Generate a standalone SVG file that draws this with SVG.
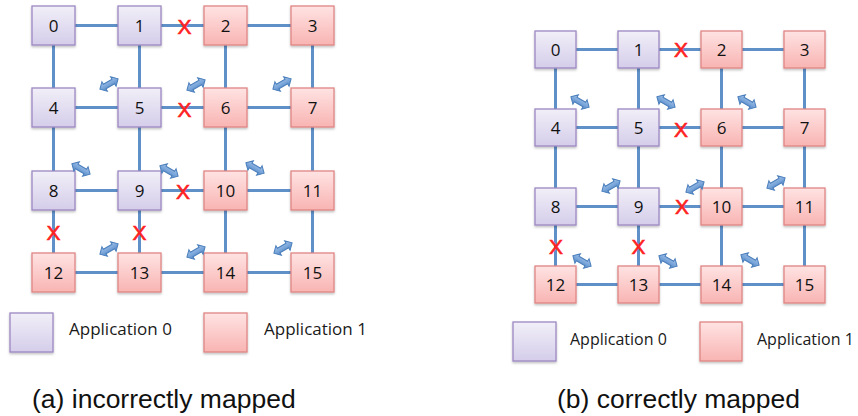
<svg xmlns="http://www.w3.org/2000/svg" width="858" height="416" viewBox="0 0 858 416">
  <defs>
    <linearGradient id="gPurple" x1="0" y1="0" x2="0" y2="1">
      <stop offset="0" stop-color="#f1eff8"/>
      <stop offset="1" stop-color="#d5cdea"/>
    </linearGradient>
    <linearGradient id="gPink" x1="0" y1="0" x2="0" y2="1">
      <stop offset="0" stop-color="#ffe3e3"/>
      <stop offset="1" stop-color="#f8b4b2"/>
    </linearGradient>
    <linearGradient id="gArrow" x1="0" y1="0" x2="0" y2="1">
      <stop offset="0" stop-color="#a9c8ee"/>
      <stop offset="1" stop-color="#4f86c6"/>
    </linearGradient>
    <filter id="shadow" x="-20%" y="-20%" width="140%" height="150%">
      <feDropShadow dx="0" dy="1.5" stdDeviation="1" flood-color="#000" flood-opacity="0.25"/>
    </filter>
    <!-- double-headed block arrow along the x axis -->
    <path id="dblArrow" d="M-10.5,0 L-5,-5.5 L-5,-2.6 L5,-2.6 L5,-5.5 L10.5,0 L5,5.5 L5,2.6 L-5,2.6 L-5,5.5 Z"/>
  </defs>
  <style>
    .app0 { fill: url(#gPurple); stroke: #9c88c2; stroke-width: 1.3; filter: url(#shadow); }
    .app1 { fill: url(#gPink); stroke: #df8684; stroke-width: 1.3; filter: url(#shadow); }
    .lbl { font-family: "Open Sans", "Liberation Sans", sans-serif; font-size: 17px; fill: #111; text-anchor: middle; dominant-baseline: central; }
    .link { stroke: #5f90c8; stroke-width: 3; fill: none; }
    .cut { font-family: "Liberation Sans", Arial, sans-serif; font-size: 21px; fill: #ff2222; stroke: #ff2222; stroke-width: 0.6; text-anchor: middle; dominant-baseline: central; }
    .traffic { fill: url(#gArrow); stroke: #4a7ebb; stroke-width: 1; }
    .legend { font-family: "Open Sans", "Liberation Sans", sans-serif; font-size: 17px; fill: #1a1a1a; }
    .legend-sm { font-size: 16px; }
    .caption { font-family: "Liberation Sans", Arial, sans-serif; font-size: 26.5px; fill: #111; }
  </style>

  <!-- ===== (a) incorrectly mapped ===== -->
  <g id="a-links">
    <!-- horizontal links -->
    <line class="link" x1="53.5" y1="25.5" x2="312.5" y2="25.5"/>
    <line class="link" x1="53.5" y1="107.5" x2="312.5" y2="107.5"/>
    <line class="link" x1="53.5" y1="190.5" x2="312.5" y2="190.5"/>
    <line class="link" x1="53.5" y1="272.5" x2="312.5" y2="272.5"/>
    <!-- vertical links -->
    <line class="link" x1="53.5" y1="25.5" x2="53.5" y2="272.5"/>
    <line class="link" x1="139.5" y1="25.5" x2="139.5" y2="272.5"/>
    <line class="link" x1="225.5" y1="25.5" x2="225.5" y2="272.5"/>
    <line class="link" x1="312.5" y1="25.5" x2="312.5" y2="272.5"/>
  </g>

  <g id="a-n0"><rect class="app0" x="32" y="6" width="43" height="39"/><text class="lbl" x="53.5" y="25.5">0</text></g>
  <g id="a-n1"><rect class="app0" x="118" y="6" width="43" height="39"/><text class="lbl" x="139.5" y="25.5">1</text></g>
  <g id="a-n2"><rect class="app1" x="204" y="6" width="43" height="39"/><text class="lbl" x="225.5" y="25.5">2</text></g>
  <g id="a-n3"><rect class="app1" x="291" y="6" width="43" height="39"/><text class="lbl" x="312.5" y="25.5">3</text></g>
  <g id="a-n4"><rect class="app0" x="32" y="88" width="43" height="39"/><text class="lbl" x="53.5" y="107.5">4</text></g>
  <g id="a-n5"><rect class="app0" x="118" y="88" width="43" height="39"/><text class="lbl" x="139.5" y="107.5">5</text></g>
  <g id="a-n6"><rect class="app1" x="204" y="88" width="43" height="39"/><text class="lbl" x="225.5" y="107.5">6</text></g>
  <g id="a-n7"><rect class="app1" x="291" y="88" width="43" height="39"/><text class="lbl" x="312.5" y="107.5">7</text></g>
  <g id="a-n8"><rect class="app0" x="32" y="171" width="43" height="39"/><text class="lbl" x="53.5" y="190.5">8</text></g>
  <g id="a-n9"><rect class="app0" x="118" y="171" width="43" height="39"/><text class="lbl" x="139.5" y="190.5">9</text></g>
  <g id="a-n10"><rect class="app1" x="204" y="171" width="43" height="39"/><text class="lbl" x="225.5" y="190.5">10</text></g>
  <g id="a-n11"><rect class="app1" x="291" y="171" width="43" height="39"/><text class="lbl" x="312.5" y="190.5">11</text></g>
  <g id="a-n12"><rect class="app1" x="32" y="253" width="43" height="39"/><text class="lbl" x="53.5" y="272.5">12</text></g>
  <g id="a-n13"><rect class="app1" x="118" y="253" width="43" height="39"/><text class="lbl" x="139.5" y="272.5">13</text></g>
  <g id="a-n14"><rect class="app1" x="204" y="253" width="43" height="39"/><text class="lbl" x="225.5" y="272.5">14</text></g>
  <g id="a-n15"><rect class="app1" x="291" y="253" width="43" height="39"/><text class="lbl" x="312.5" y="272.5">15</text></g>

  <g id="a-cuts">
    <text class="cut" x="184.5" y="26">X</text>
    <text class="cut" x="184.5" y="109">X</text>
    <text class="cut" x="183" y="191">X</text>
    <text class="cut" x="53.5" y="232">X</text>
    <text class="cut" x="139.5" y="232">X</text>
  </g>

  <g id="a-traffic">
    <use href="#dblArrow" class="traffic" transform="translate(109,84) rotate(-30)"/>
    <use href="#dblArrow" class="traffic" transform="translate(196,85) rotate(-30)"/>
    <use href="#dblArrow" class="traffic" transform="translate(282,84) rotate(-30)"/>
    <use href="#dblArrow" class="traffic" transform="translate(81,169) rotate(30)"/>
    <use href="#dblArrow" class="traffic" transform="translate(169,171) rotate(30)"/>
    <use href="#dblArrow" class="traffic" transform="translate(255,168) rotate(30)"/>
    <use href="#dblArrow" class="traffic" transform="translate(109,249) rotate(-30)"/>
    <use href="#dblArrow" class="traffic" transform="translate(196,252) rotate(-30)"/>
    <use href="#dblArrow" class="traffic" transform="translate(283,248) rotate(-30)"/>
  </g>

  <g id="a-legend">
    <rect class="app0" x="10" y="313" width="43" height="39"/>
    <text class="legend" x="69" y="335">Application 0</text>
    <rect class="app1" x="204" y="313" width="43" height="39"/>
    <text class="legend" x="264" y="335">Application 1</text>
  </g>
  <text id="a-caption" class="caption" x="32" y="408">(a) incorrectly mapped</text>

  <!-- ===== (b) correctly mapped ===== -->
  <g id="b-links">
    <line class="link" x1="555.5" y1="49.5" x2="804.5" y2="49.5"/>
    <line class="link" x1="555.5" y1="127.5" x2="804.5" y2="127.5"/>
    <line class="link" x1="555.5" y1="206.5" x2="804.5" y2="206.5"/>
    <line class="link" x1="555.5" y1="284.5" x2="804.5" y2="284.5"/>
    <line class="link" x1="555.5" y1="49.5" x2="555.5" y2="284.5"/>
    <line class="link" x1="638.5" y1="49.5" x2="638.5" y2="284.5"/>
    <line class="link" x1="721.5" y1="49.5" x2="721.5" y2="284.5"/>
    <line class="link" x1="804.5" y1="49.5" x2="804.5" y2="284.5"/>
  </g>

  <g id="b-n0"><rect class="app0" x="535" y="31" width="41" height="37"/><text class="lbl" x="555.5" y="49.5">0</text></g>
  <g id="b-n1"><rect class="app0" x="618" y="31" width="41" height="37"/><text class="lbl" x="638.5" y="49.5">1</text></g>
  <g id="b-n2"><rect class="app1" x="701" y="31" width="41" height="37"/><text class="lbl" x="721.5" y="49.5">2</text></g>
  <g id="b-n3"><rect class="app1" x="784" y="31" width="41" height="37"/><text class="lbl" x="804.5" y="49.5">3</text></g>
  <g id="b-n4"><rect class="app0" x="535" y="109" width="41" height="37"/><text class="lbl" x="555.5" y="127.5">4</text></g>
  <g id="b-n5"><rect class="app0" x="618" y="109" width="41" height="37"/><text class="lbl" x="638.5" y="127.5">5</text></g>
  <g id="b-n6"><rect class="app1" x="701" y="109" width="41" height="37"/><text class="lbl" x="721.5" y="127.5">6</text></g>
  <g id="b-n7"><rect class="app1" x="784" y="109" width="41" height="37"/><text class="lbl" x="804.5" y="127.5">7</text></g>
  <g id="b-n8"><rect class="app0" x="535" y="188" width="41" height="37"/><text class="lbl" x="555.5" y="206.5">8</text></g>
  <g id="b-n9"><rect class="app0" x="618" y="188" width="41" height="37"/><text class="lbl" x="638.5" y="206.5">9</text></g>
  <g id="b-n10"><rect class="app1" x="701" y="188" width="41" height="37"/><text class="lbl" x="721.5" y="206.5">10</text></g>
  <g id="b-n11"><rect class="app1" x="784" y="188" width="41" height="37"/><text class="lbl" x="804.5" y="206.5">11</text></g>
  <g id="b-n12"><rect class="app1" x="535" y="266" width="41" height="37"/><text class="lbl" x="555.5" y="284.5">12</text></g>
  <g id="b-n13"><rect class="app1" x="618" y="266" width="41" height="37"/><text class="lbl" x="638.5" y="284.5">13</text></g>
  <g id="b-n14"><rect class="app1" x="701" y="266" width="41" height="37"/><text class="lbl" x="721.5" y="284.5">14</text></g>
  <g id="b-n15"><rect class="app1" x="784" y="266" width="41" height="37"/><text class="lbl" x="804.5" y="284.5">15</text></g>

  <g id="b-cuts">
    <text class="cut" x="681" y="49">X</text>
    <text class="cut" x="681" y="129">X</text>
    <text class="cut" x="682" y="206">X</text>
    <text class="cut" x="556" y="246">X</text>
    <text class="cut" x="638.5" y="246">X</text>
  </g>

  <g id="b-traffic">
    <use href="#dblArrow" class="traffic" transform="translate(580,102) rotate(30)"/>
    <use href="#dblArrow" class="traffic" transform="translate(666,102) rotate(30)"/>
    <use href="#dblArrow" class="traffic" transform="translate(747,102) rotate(30)"/>
    <use href="#dblArrow" class="traffic" transform="translate(611,186) rotate(-30)"/>
    <use href="#dblArrow" class="traffic" transform="translate(695,187) rotate(-30)"/>
    <use href="#dblArrow" class="traffic" transform="translate(776,183) rotate(-30)"/>
    <use href="#dblArrow" class="traffic" transform="translate(582,261) rotate(30)"/>
    <use href="#dblArrow" class="traffic" transform="translate(668,261) rotate(30)"/>
    <use href="#dblArrow" class="traffic" transform="translate(750,260) rotate(30)"/>
  </g>

  <g id="b-legend">
    <rect class="app0" x="513" y="322" width="43" height="39"/>
    <text class="legend legend-sm" x="570" y="345">Application 0</text>
    <rect class="app1" x="700" y="322" width="42" height="39"/>
    <text class="legend legend-sm" x="757" y="345">Application 1</text>
  </g>
  <text id="b-caption" class="caption" x="557" y="408">(b) correctly mapped</text>
</svg>
